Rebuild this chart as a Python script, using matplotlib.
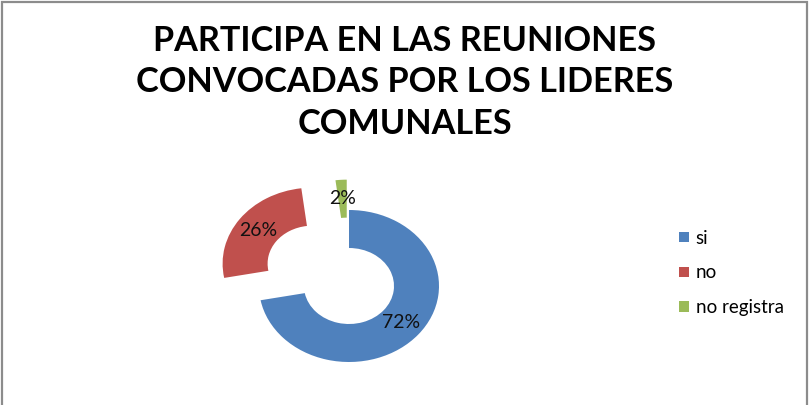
import matplotlib
matplotlib.use('Agg')
import matplotlib.pyplot as plt
from matplotlib.patches import Rectangle, Patch

# chart data
categories = ['si', 'no', 'no registra']
values = [72, 26, 2]
explode = [0.0, 0.5, 0.4]
colors = ['#4F81BD', '#C0504D', '#9BBB59']
title = 'PARTICIPA EN LAS REUNIONES\nCONVOCADAS POR LOS LIDERES\nCOMUNALES'

plt.rcParams['font.family'] = ['Lato', 'DejaVu Sans']

fig = plt.figure(figsize=[8.09, 4.05], dpi=100)

# donut, slightly stretched horizontally like the original
ax = fig.add_axes([169 / 809, 5 / 405, 360 / 809, 266 / 405])
wedges, texts, autotexts = ax.pie(values, explode=explode, colors=colors, startangle=90,
                                  counterclock=False, autopct='%1.0f%%', pctdistance=0.75,
                                  wedgeprops=dict(width=0.5, linewidth=0),
                                  textprops=dict(fontsize=14, color='#111111'))
ax.set_aspect('auto')
ax.set_xlim(-2, 2)
ax.set_ylim(-1.5, 2)
ax.axis('off')

fig.text(0.5, 1 - 25 / 405, title, ha='center', va='top', fontsize=24.7,
         fontweight='bold', linespacing=1.36, color='black')

handles = [Patch(facecolor=c, edgecolor='none') for c in colors]
fig.legend(handles, categories, loc='center left', bbox_to_anchor=(662 / 809, 1 - 273 / 405),
           frameon=False, fontsize=13.5, handlelength=0.55, handleheight=0.5,
           handletextpad=0.35, labelspacing=0.95)

# grey frame around the chart area
fig.patches.append(Rectangle((2 / 809, -0.1), 805 / 809, 1.1 - 2 / 405, transform=fig.transFigure,
                             fill=False, edgecolor='#8c8c8c', linewidth=1.6))

fig.savefig('out.png', dpi=100)
